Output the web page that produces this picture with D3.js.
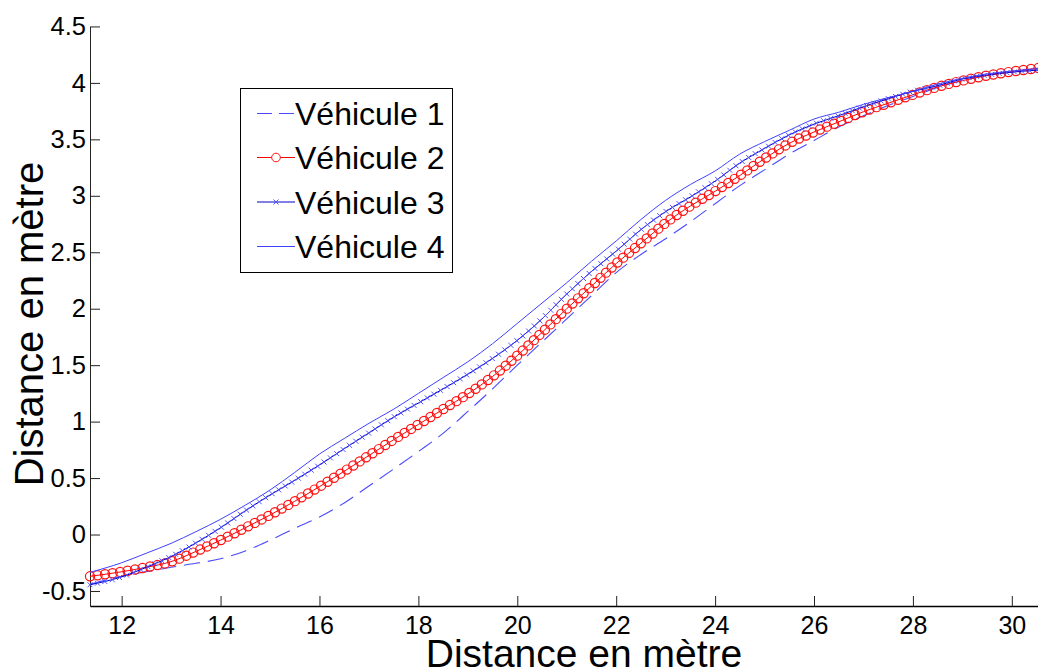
<!DOCTYPE html>
<html><head><meta charset="utf-8">
<script src="https://cdn.jsdelivr.net/npm/d3@7"></script>
<style>body{margin:0;background:#fff} svg{display:block;font-family:"Liberation Sans",Arial,sans-serif}</style>
</head><body><svg id="c" width="1038" height="670"></svg>
<script>
const xValues = [11.36, 12, 12.5, 13, 13.5, 14, 14.5, 15, 15.5, 16, 16.5, 17, 17.5, 18, 18.5, 19, 19.5, 20, 20.5, 21, 21.5, 22, 22.5, 23, 23.5, 24, 24.5, 25, 25.5, 26, 26.5, 27, 27.5, 28, 28.5, 29, 29.5, 30, 30.6];
const vehicule1 = [-0.44, -0.37, -0.33, -0.29, -0.255, -0.215, -0.145, -0.05, 0.055, 0.155, 0.28, 0.43, 0.58, 0.735, 0.896, 1.09, 1.29, 1.50, 1.705, 1.91, 2.115, 2.32, 2.48, 2.62, 2.77, 2.93, 3.09, 3.23, 3.37, 3.49, 3.61, 3.71, 3.80, 3.88, 3.96, 4.02, 4.07, 4.10, 4.13];
const vehicule2 = [-0.37, -0.33, -0.29, -0.24, -0.15, -0.05, 0.06, 0.173, 0.295, 0.424, 0.56, 0.70, 0.84, 0.975, 1.11, 1.245, 1.40, 1.585, 1.79, 2.0, 2.20, 2.40, 2.58, 2.76, 2.91, 3.04, 3.18, 3.33, 3.465, 3.565, 3.655, 3.745, 3.82, 3.895, 3.965, 4.02, 4.065, 4.10, 4.135];
const vehicule3 = [-0.445, -0.375, -0.29, -0.195, -0.075, 0.06, 0.21, 0.35, 0.48, 0.616, 0.76, 0.90, 1.04, 1.165, 1.29, 1.42, 1.56, 1.72, 1.91, 2.13, 2.33, 2.51, 2.70, 2.86, 2.99, 3.13, 3.29, 3.42, 3.54, 3.635, 3.71, 3.79, 3.86, 3.925, 3.975, 4.035, 4.07, 4.095, 4.115];
const vehicule4 = [-0.335, -0.25, -0.165, -0.078, 0.025, 0.135, 0.26, 0.394, 0.55, 0.713, 0.85, 0.985, 1.11, 1.25, 1.39, 1.53, 1.69, 1.87, 2.05, 2.23, 2.42, 2.60, 2.79, 2.96, 3.10, 3.22, 3.37, 3.48, 3.58, 3.68, 3.74, 3.81, 3.87, 3.925, 3.99, 4.04, 4.08, 4.105, 4.13];
const seriesNames = ["Véhicule 1", "Véhicule 2", "Véhicule 3", "Véhicule 4"];
const xTicks = [12, 14, 16, 18, 20, 22, 24, 26, 28, 30];
const yTicks = [-0.5, 0, 0.5, 1, 1.5, 2, 2.5, 3, 3.5, 4, 4.5];
const xLabel = "Distance en mètre";
const yLabel = "Distance en mètre";

const svg = d3.select("#c");
const x = d3.scaleLinear().domain([11.36, 30.6]).range([90, 1041.5]);
const y = d3.scaleLinear().domain([-0.633, 4.5]).range([606, 26.45]);

const ya = svg.append("g").attr("transform", "translate(90,0)")
  .call(d3.axisLeft(y).tickValues(yTicks).tickFormat(d => String(d)).tickSizeInner(-10).tickSizeOuter(0).tickPadding(4));
ya.select(".domain").attr("stroke", "#222").attr("stroke-width", 1);
ya.selectAll(".tick line").attr("stroke", "#222");
ya.selectAll(".tick text").attr("font-size", 25.5).attr("font-family", "Liberation Sans, Arial, sans-serif").attr("fill", "#000");

const xa = svg.append("g").attr("transform", "translate(0,606)")
  .call(d3.axisBottom(x).tickValues(xTicks).tickFormat(d => String(d)).tickSizeInner(-10).tickSizeOuter(0).tickPadding(10));
xa.select(".domain").attr("stroke", "#000").attr("stroke-width", 1.3);
xa.selectAll(".tick line").attr("stroke", "#222");
xa.selectAll(".tick text").attr("font-size", 25).attr("font-family", "Liberation Sans, Arial, sans-serif").attr("fill", "#000");

svg.append("text").attr("x", 584).attr("y", 667).attr("text-anchor", "middle")
  .attr("font-size", 39).text(xLabel);
svg.append("text").attr("transform", "translate(43,324) rotate(-90)").attr("text-anchor", "middle")
  .attr("font-size", 40).text(yLabel);

const line = d3.line().x((d, i) => x(xValues[i])).y(d => y(d)).curve(d3.curveMonotoneX);

function sampleAlong(node, step) {
  const total = node.getTotalLength();
  const out = [];
  for (let l = 0; l <= total; l += step) out.push(node.getPointAtLength(l));
  return out;
}

const g = svg.append("g");
g.append("path").attr("d", line(vehicule1)).attr("fill", "none")
  .attr("stroke", "#4a4aff").attr("stroke-width", 1.1).attr("stroke-dasharray", "16,8");
const p2 = g.append("path").attr("d", line(vehicule2)).attr("fill", "none")
  .attr("stroke", "#ff0000").attr("stroke-width", 1);
g.append("g").selectAll("circle").data(sampleAlong(p2.node(), 7.6)).join("circle")
  .attr("cx", d => d.x).attr("cy", d => d.y).attr("r", 4.6)
  .attr("fill", "none").attr("stroke", "#ff1010").attr("stroke-width", 1.2);
const p3 = g.append("path").attr("d", line(vehicule3)).attr("fill", "none")
  .attr("stroke", "#0000d0").attr("stroke-width", 1);
g.append("g").selectAll("path").data(sampleAlong(p3.node(), 7.6)).join("path")
  .attr("d", d => `M${d.x-2.5},${d.y-2.5}L${d.x+2.5},${d.y+2.5}M${d.x-2.5},${d.y+2.5}L${d.x+2.5},${d.y-2.5}`)
  .attr("stroke", "#5050ff").attr("stroke-width", 1).attr("fill", "none");
g.append("path").attr("d", line(vehicule4)).attr("fill", "none")
  .attr("stroke", "#4040ff").attr("stroke-width", 1);

const lg = svg.append("g");
lg.append("rect").attr("x", 240.5).attr("y", 88.5).attr("width", 212).attr("height", 184)
  .attr("fill", "#fff").attr("stroke", "#000").attr("stroke-width", 1);
const baselines = [125, 169, 213.5, 258];
seriesNames.forEach((name, i) => {
  const ly = baselines[i] - 11.5;
  const s = lg.append("line").attr("x1", 257).attr("x2", 295).attr("y1", ly).attr("y2", ly).attr("stroke-width", 1);
  if (i === 0) s.attr("stroke", "#4a4aff").attr("stroke-dasharray", "15,7");
  if (i === 1) { s.attr("stroke", "#ff0000");
    lg.append("circle").attr("cx", 276).attr("cy", ly).attr("r", 4.3).attr("fill", "#fff").attr("stroke", "#ff1010"); }
  if (i === 2) { s.attr("stroke", "#0000d0");
    lg.append("path").attr("d", `M273.5,${ly-2.5}L278.5,${ly+2.5}M273.5,${ly+2.5}L278.5,${ly-2.5}`).attr("stroke", "#5050ff"); }
  if (i === 3) s.attr("stroke", "#4040ff");
  lg.append("text").attr("x", 295).attr("y", baselines[i]).attr("font-size", 32).attr("fill", "#000").text(name);
});
</script></body></html>
